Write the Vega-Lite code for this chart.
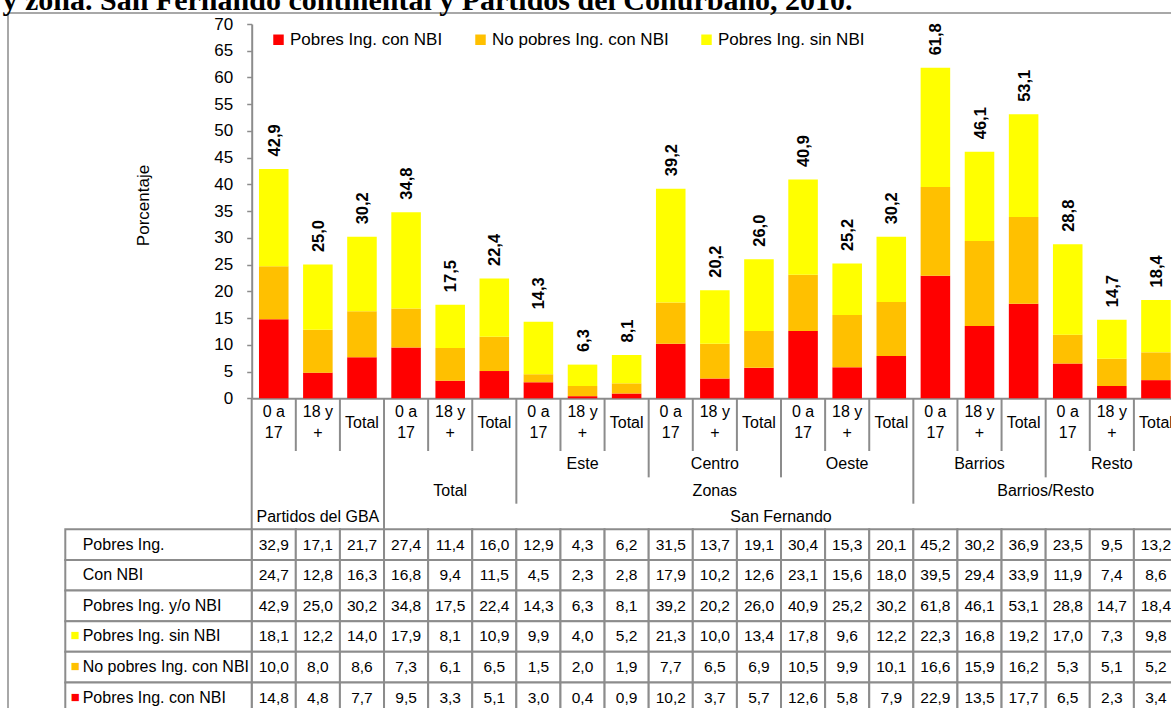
{
  "$schema": "https://vega.github.io/schema/vega-lite/v6.json",
  "autosize": {"type": "none"},
  "padding": {"left": 8, "top": 13, "right": -17, "bottom": -20},
  "width": 1180,
  "height": 715,
  "background": "white",
  "config": {
    "font": "Liberation Sans",
    "view": {"stroke": "#8c8c8c", "strokeWidth": 1.5},
    "locale": {"number": {"decimal": ",", "thousands": ".", "grouping": [3], "currency": ["$", ""]}}
  },
  "datasets": {
    "main": [
      {"col": "GBA 0a17", "pobres": 32.9, "conNBI": 24.7, "pobresYoNBI": 42.9, "sinNBI": 18.1, "noPobresConNBI": 10.0, "pobresConNBI": 14.8},
      {"col": "GBA 18+", "pobres": 17.1, "conNBI": 12.8, "pobresYoNBI": 25.0, "sinNBI": 12.2, "noPobresConNBI": 8.0, "pobresConNBI": 4.8},
      {"col": "GBA Total", "pobres": 21.7, "conNBI": 16.3, "pobresYoNBI": 30.2, "sinNBI": 14.0, "noPobresConNBI": 8.6, "pobresConNBI": 7.7},
      {"col": "SF 0a17", "pobres": 27.4, "conNBI": 16.8, "pobresYoNBI": 34.8, "sinNBI": 17.9, "noPobresConNBI": 7.3, "pobresConNBI": 9.5},
      {"col": "SF 18+", "pobres": 11.4, "conNBI": 9.4, "pobresYoNBI": 17.5, "sinNBI": 8.1, "noPobresConNBI": 6.1, "pobresConNBI": 3.3},
      {"col": "SF Total", "pobres": 16.0, "conNBI": 11.5, "pobresYoNBI": 22.4, "sinNBI": 10.9, "noPobresConNBI": 6.5, "pobresConNBI": 5.1},
      {"col": "Este 0a17", "pobres": 12.9, "conNBI": 4.5, "pobresYoNBI": 14.3, "sinNBI": 9.9, "noPobresConNBI": 1.5, "pobresConNBI": 3.0},
      {"col": "Este 18+", "pobres": 4.3, "conNBI": 2.3, "pobresYoNBI": 6.3, "sinNBI": 4.0, "noPobresConNBI": 2.0, "pobresConNBI": 0.4},
      {"col": "Este Total", "pobres": 6.2, "conNBI": 2.8, "pobresYoNBI": 8.1, "sinNBI": 5.2, "noPobresConNBI": 1.9, "pobresConNBI": 0.9},
      {"col": "Centro 0a17", "pobres": 31.5, "conNBI": 17.9, "pobresYoNBI": 39.2, "sinNBI": 21.3, "noPobresConNBI": 7.7, "pobresConNBI": 10.2},
      {"col": "Centro 18+", "pobres": 13.7, "conNBI": 10.2, "pobresYoNBI": 20.2, "sinNBI": 10.0, "noPobresConNBI": 6.5, "pobresConNBI": 3.7},
      {"col": "Centro Total", "pobres": 19.1, "conNBI": 12.6, "pobresYoNBI": 26.0, "sinNBI": 13.4, "noPobresConNBI": 6.9, "pobresConNBI": 5.7},
      {"col": "Oeste 0a17", "pobres": 30.4, "conNBI": 23.1, "pobresYoNBI": 40.9, "sinNBI": 17.8, "noPobresConNBI": 10.5, "pobresConNBI": 12.6},
      {"col": "Oeste 18+", "pobres": 15.3, "conNBI": 15.6, "pobresYoNBI": 25.2, "sinNBI": 9.6, "noPobresConNBI": 9.9, "pobresConNBI": 5.8},
      {"col": "Oeste Total", "pobres": 20.1, "conNBI": 18.0, "pobresYoNBI": 30.2, "sinNBI": 12.2, "noPobresConNBI": 10.1, "pobresConNBI": 7.9},
      {"col": "Barrios 0a17", "pobres": 45.2, "conNBI": 39.5, "pobresYoNBI": 61.8, "sinNBI": 22.3, "noPobresConNBI": 16.6, "pobresConNBI": 22.9},
      {"col": "Barrios 18+", "pobres": 30.2, "conNBI": 29.4, "pobresYoNBI": 46.1, "sinNBI": 16.8, "noPobresConNBI": 15.9, "pobresConNBI": 13.5},
      {"col": "Barrios Total", "pobres": 36.9, "conNBI": 33.9, "pobresYoNBI": 53.1, "sinNBI": 19.2, "noPobresConNBI": 16.2, "pobresConNBI": 17.7},
      {"col": "Resto 0a17", "pobres": 23.5, "conNBI": 11.9, "pobresYoNBI": 28.8, "sinNBI": 17.0, "noPobresConNBI": 5.3, "pobresConNBI": 6.5},
      {"col": "Resto 18+", "pobres": 9.5, "conNBI": 7.4, "pobresYoNBI": 14.7, "sinNBI": 7.3, "noPobresConNBI": 5.1, "pobresConNBI": 2.3},
      {"col": "Resto Total", "pobres": 13.2, "conNBI": 8.6, "pobresYoNBI": 18.4, "sinNBI": 9.8, "noPobresConNBI": 5.2, "pobresConNBI": 3.4}
    ],
    "columnas": [
      {"col": "GBA 0a17", "edad": "0 a\n17", "desde": "L1a", "hasta": "fin"},
      {"col": "GBA 18+", "edad": "18 y\n+", "desde": "L1a", "hasta": "L2"},
      {"col": "GBA Total", "edad": "Total", "desde": "L1a", "hasta": "L2"},
      {"col": "SF 0a17", "edad": "0 a\n17", "desde": "L1a", "hasta": "fin"},
      {"col": "SF 18+", "edad": "18 y\n+", "desde": "L1a", "hasta": "L2"},
      {"col": "SF Total", "edad": "Total", "desde": "L1a", "hasta": "L2"},
      {"col": "Este 0a17", "edad": "0 a\n17", "desde": "L1a", "hasta": "L4"},
      {"col": "Este 18+", "edad": "18 y\n+", "desde": "L1a", "hasta": "L2"},
      {"col": "Este Total", "edad": "Total", "desde": "L1a", "hasta": "L2"},
      {"col": "Centro 0a17", "edad": "0 a\n17", "desde": "L1a", "hasta": "L3"},
      {"col": "Centro 18+", "edad": "18 y\n+", "desde": "L1a", "hasta": "L2"},
      {"col": "Centro Total", "edad": "Total", "desde": "L1a", "hasta": "L2"},
      {"col": "Oeste 0a17", "edad": "0 a\n17", "desde": "L1a", "hasta": "L3"},
      {"col": "Oeste 18+", "edad": "18 y\n+", "desde": "L1a", "hasta": "L2"},
      {"col": "Oeste Total", "edad": "Total", "desde": "L1a", "hasta": "L2"},
      {"col": "Barrios 0a17", "edad": "0 a\n17", "desde": "L1a", "hasta": "L4"},
      {"col": "Barrios 18+", "edad": "18 y\n+", "desde": "L1a", "hasta": "L2"},
      {"col": "Barrios Total", "edad": "Total", "desde": "L1a", "hasta": "L2"},
      {"col": "Resto 0a17", "edad": "0 a\n17", "desde": "L1a", "hasta": "L3"},
      {"col": "Resto 18+", "edad": "18 y\n+", "desde": "L1a", "hasta": "L2"},
      {"col": "Resto Total", "edad": "Total", "desde": "L1a", "hasta": "L2"}
    ],
    "gruposC": [
      {"nivel": "L2", "col": "Este 18+", "texto": "Este"},
      {"nivel": "L2", "col": "Centro 18+", "texto": "Centro"},
      {"nivel": "L2", "col": "Oeste 18+", "texto": "Oeste"},
      {"nivel": "L2", "col": "Barrios 18+", "texto": "Barrios"},
      {"nivel": "L2", "col": "Resto 18+", "texto": "Resto"},
      {"nivel": "L3", "col": "SF 18+", "texto": "Total"},
      {"nivel": "L3", "col": "Centro 18+", "texto": "Zonas"},
      {"nivel": "L4", "col": "GBA 18+", "texto": "Partidos del GBA"}
    ],
    "gruposB": [
      {"nivel": "L3", "col": "Resto 0a17", "texto": "Barrios/Resto"},
      {"nivel": "L4", "col": "Oeste 0a17", "texto": "San Fernando"}
    ],
    "filas": [
      {"columna": "etiqueta", "clave": "pobres", "etiqueta": "Pobres Ing."},
      {"columna": "etiqueta", "clave": "conNBI", "etiqueta": " Con NBI"},
      {"columna": "etiqueta", "clave": "pobresYoNBI", "etiqueta": "Pobres Ing. y/o NBI"},
      {"columna": "etiqueta", "clave": "sinNBI", "etiqueta": "Pobres Ing. sin NBI"},
      {"columna": "etiqueta", "clave": "noPobresConNBI", "etiqueta": "No pobres Ing. con NBI"},
      {"columna": "etiqueta", "clave": "pobresConNBI", "etiqueta": "Pobres Ing. con NBI"}
    ]
  },
  "layer": [
    {
      "data": {"name": "main"},
      "mark": {"type": "bar", "width": {"band": 0.67}},
      "encoding": {
        "x": {"field": "col", "type": "nominal", "title": null,
          "scale": {"type": "band", "domain": ["GBA 0a17","GBA 18+","GBA Total","SF 0a17","SF 18+","SF Total","Este 0a17","Este 18+","Este Total","Centro 0a17","Centro 18+","Centro Total","Oeste 0a17","Oeste 18+","Oeste Total","Barrios 0a17","Barrios 18+","Barrios Total","Resto 0a17","Resto 18+","Resto Total"], "range": [243.7, 1170], "paddingInner": 0, "paddingOuter": 0},
          "axis": {"labels": false, "ticks": false, "domain": true, "domainColor": "#8c8c8c", "domainWidth": 2, "offset": -329.7, "grid": false, "title": null, "orient": "bottom"}},
        "y": {"field": "pobresConNBI", "type": "quantitative", "stack": null, "title": "Porcentaje",
          "scale": {"domain": [0, 70], "range": [385.3, 11], "nice": false, "zero": false},
          "axis": {"values": [0,5,10,15,20,25,30,35,40,45,50,55,60,65,70], "offset": -243.7, "grid": false, "orient": "left",
            "domainColor": "#8c8c8c", "domainWidth": 2, "tickColor": "#8c8c8c", "tickWidth": 1.5, "tickSize": 5,
            "labelFontSize": 17, "labelColor": "#000000", "labelPadding": 14,
            "titleFontSize": 17, "titleFontWeight": "normal", "titleColor": "#000000",
            "titleX": -108, "titleY": 192, "titleAngle": 270, "titleAlign": "center", "titleBaseline": "middle"}},
        "color": {"datum": "Pobres Ing. con NBI", "type": "nominal",
          "scale": {"domain": ["Pobres Ing. con NBI", "No pobres Ing. con NBI", "Pobres Ing. sin NBI"], "range": ["#FF0000", "#FFC000", "#FFFF00"]},
          "legend": {"orient": "none", "legendX": 262, "legendY": 18, "direction": "horizontal", "title": null,
            "symbolType": "square", "symbolSize": 110, "symbolStrokeWidth": 0, "labelFontSize": 17, "labelColor": "#000000",
            "labelOffset": 3, "labelLimit": 400, "columnPadding": 29, "padding": 0}}
      }
    },
    {
      "data": {"name": "main"},
      "mark": {"type": "bar", "width": {"band": 0.67}},
      "encoding": {
        "x": {"field": "col", "type": "nominal", "axis": null,
          "scale": {"type": "band", "domain": ["GBA 0a17","GBA 18+","GBA Total","SF 0a17","SF 18+","SF Total","Este 0a17","Este 18+","Este Total","Centro 0a17","Centro 18+","Centro Total","Oeste 0a17","Oeste 18+","Oeste Total","Barrios 0a17","Barrios 18+","Barrios Total","Resto 0a17","Resto 18+","Resto Total"], "range": [243.7, 1170], "paddingInner": 0, "paddingOuter": 0}},
        "y": {"field": "pobresConNBI", "type": "quantitative", "stack": null, "axis": null,
          "scale": {"domain": [0, 70], "range": [385.3, 11], "nice": false, "zero": false}},
        "y2": {"field": "conNBI"},
        "color": {"datum": "No pobres Ing. con NBI", "type": "nominal", "legend": null,
          "scale": {"domain": ["Pobres Ing. con NBI", "No pobres Ing. con NBI", "Pobres Ing. sin NBI"], "range": ["#FF0000", "#FFC000", "#FFFF00"]}}
      }
    },
    {
      "data": {"name": "main"},
      "mark": {"type": "bar", "width": {"band": 0.67}},
      "encoding": {
        "x": {"field": "col", "type": "nominal", "axis": null,
          "scale": {"type": "band", "domain": ["GBA 0a17","GBA 18+","GBA Total","SF 0a17","SF 18+","SF Total","Este 0a17","Este 18+","Este Total","Centro 0a17","Centro 18+","Centro Total","Oeste 0a17","Oeste 18+","Oeste Total","Barrios 0a17","Barrios 18+","Barrios Total","Resto 0a17","Resto 18+","Resto Total"], "range": [243.7, 1170], "paddingInner": 0, "paddingOuter": 0}},
        "y": {"field": "conNBI", "type": "quantitative", "stack": null, "axis": null,
          "scale": {"domain": [0, 70], "range": [385.3, 11], "nice": false, "zero": false}},
        "y2": {"field": "pobresYoNBI"},
        "color": {"datum": "Pobres Ing. sin NBI", "type": "nominal", "legend": null,
          "scale": {"domain": ["Pobres Ing. con NBI", "No pobres Ing. con NBI", "Pobres Ing. sin NBI"], "range": ["#FF0000", "#FFC000", "#FFFF00"]}}
      }
    },
    {
      "data": {"name": "main"},
      "mark": {"type": "text", "angle": 270, "align": "left", "baseline": "middle", "dx": 12.5, "dy": 1, "fontWeight": "bold", "fontSize": 16.5, "color": "#000000"},
      "encoding": {
        "x": {"field": "col", "type": "nominal", "title": "y zona. San Fernando continental y Partidos del Conurbano, 2010.",
          "scale": {"type": "band", "domain": ["GBA 0a17","GBA 18+","GBA Total","SF 0a17","SF 18+","SF Total","Este 0a17","Este 18+","Este Total","Centro 0a17","Centro 18+","Centro Total","Oeste 0a17","Oeste 18+","Oeste Total","Barrios 0a17","Barrios 18+","Barrios Total","Resto 0a17","Resto 18+","Resto Total"], "range": [243.7, 1170], "paddingInner": 0, "paddingOuter": 0},
          "axis": {"orient": "top", "domain": false, "ticks": false, "labels": false, "grid": false,
            "titleFont": "Liberation Serif", "titleFontSize": 30, "titleFontWeight": "bold", "titleColor": "#000000",
            "titleAnchor": "start", "titleAlign": "left", "titleBaseline": "alphabetic", "titleX": -6, "titleY": -4, "titleLimit": 3000, "titleAngle": 0}},
        "y": {"field": "pobresYoNBI", "type": "quantitative", "axis": null,
          "scale": {"domain": [0, 70], "range": [385.3, 11], "nice": false, "zero": false}},
        "text": {"field": "pobresYoNBI", "type": "quantitative", "format": ".1f"}
      }
    },
    {
      "data": {"name": "columnas"},
      "mark": {"type": "rule", "color": "#8c8c8c", "strokeWidth": 2},
      "encoding": {
        "x": {"field": "col", "type": "nominal", "bandPosition": 0, "axis": null,
          "scale": {"type": "band", "domain": ["GBA 0a17","GBA 18+","GBA Total","SF 0a17","SF 18+","SF Total","Este 0a17","Este 18+","Este Total","Centro 0a17","Centro 18+","Centro Total","Oeste 0a17","Oeste 18+","Oeste Total","Barrios 0a17","Barrios 18+","Barrios Total","Resto 0a17","Resto 18+","Resto Total"], "range": [243.7, 1170], "paddingInner": 0, "paddingOuter": 0}},
        "y": {"field": "desde", "type": "nominal", "bandPosition": 0, "axis": null,
          "scale": {"type": "band", "domain": ["L1a", "L1b", "L2", "L3", "L4", "fin"], "range": [385.3, 543.4], "paddingInner": 0, "paddingOuter": 0}},
        "y2": {"field": "hasta", "bandPosition": 0}
      }
    },
    {
      "data": {"name": "columnas"},
      "transform": [{"filter": {"not": {"field": "edad", "equal": "Total"}}}],
      "mark": {"type": "text", "lineBreak": "\n", "lineHeight": 20.5, "fontSize": 16, "align": "center", "baseline": "middle", "color": "#000000", "dy": 1},
      "encoding": {
        "x": {"field": "col", "type": "nominal", "axis": null,
          "scale": {"type": "band", "domain": ["GBA 0a17","GBA 18+","GBA Total","SF 0a17","SF 18+","SF Total","Este 0a17","Este 18+","Este Total","Centro 0a17","Centro 18+","Centro Total","Oeste 0a17","Oeste 18+","Oeste Total","Barrios 0a17","Barrios 18+","Barrios Total","Resto 0a17","Resto 18+","Resto Total"], "range": [243.7, 1170], "paddingInner": 0, "paddingOuter": 0}},
        "y": {"field": "desde", "type": "nominal", "bandPosition": 0.5, "axis": null,
          "scale": {"type": "band", "domain": ["L1a", "L1b", "L2", "L3", "L4", "fin"], "range": [385.3, 543.4], "paddingInner": 0, "paddingOuter": 0}},
        "text": {"field": "edad", "type": "nominal"}
      }
    },
    {
      "data": {"name": "columnas"},
      "transform": [{"filter": {"field": "edad", "equal": "Total"}}],
      "mark": {"type": "text", "fontSize": 16, "align": "center", "baseline": "middle", "color": "#000000", "dy": -1.5},
      "encoding": {
        "x": {"field": "col", "type": "nominal", "axis": null,
          "scale": {"type": "band", "domain": ["GBA 0a17","GBA 18+","GBA Total","SF 0a17","SF 18+","SF Total","Este 0a17","Este 18+","Este Total","Centro 0a17","Centro 18+","Centro Total","Oeste 0a17","Oeste 18+","Oeste Total","Barrios 0a17","Barrios 18+","Barrios Total","Resto 0a17","Resto 18+","Resto Total"], "range": [243.7, 1170], "paddingInner": 0, "paddingOuter": 0}},
        "y": {"field": "desde", "type": "nominal", "bandPosition": 1, "axis": null,
          "scale": {"type": "band", "domain": ["L1a", "L1b", "L2", "L3", "L4", "fin"], "range": [385.3, 543.4], "paddingInner": 0, "paddingOuter": 0}},
        "text": {"field": "edad", "type": "nominal"}
      }
    },
    {
      "data": {"name": "gruposC"},
      "mark": {"type": "text", "fontSize": 16, "align": "center", "baseline": "middle", "color": "#000000"},
      "encoding": {
        "x": {"field": "col", "type": "nominal", "axis": null,
          "scale": {"type": "band", "domain": ["GBA 0a17","GBA 18+","GBA Total","SF 0a17","SF 18+","SF Total","Este 0a17","Este 18+","Este Total","Centro 0a17","Centro 18+","Centro Total","Oeste 0a17","Oeste 18+","Oeste Total","Barrios 0a17","Barrios 18+","Barrios Total","Resto 0a17","Resto 18+","Resto Total"], "range": [243.7, 1170], "paddingInner": 0, "paddingOuter": 0}},
        "y": {"field": "nivel", "type": "nominal", "axis": null,
          "scale": {"type": "band", "domain": ["L1a", "L1b", "L2", "L3", "L4", "fin"], "range": [385.3, 543.4], "paddingInner": 0, "paddingOuter": 0}},
        "text": {"field": "texto", "type": "nominal"}
      }
    },
    {
      "data": {"name": "gruposB"},
      "mark": {"type": "text", "fontSize": 16, "align": "center", "baseline": "middle", "color": "#000000"},
      "encoding": {
        "x": {"field": "col", "type": "nominal", "bandPosition": 0, "axis": null,
          "scale": {"type": "band", "domain": ["GBA 0a17","GBA 18+","GBA Total","SF 0a17","SF 18+","SF Total","Este 0a17","Este 18+","Este Total","Centro 0a17","Centro 18+","Centro Total","Oeste 0a17","Oeste 18+","Oeste Total","Barrios 0a17","Barrios 18+","Barrios Total","Resto 0a17","Resto 18+","Resto Total"], "range": [243.7, 1170], "paddingInner": 0, "paddingOuter": 0}},
        "y": {"field": "nivel", "type": "nominal", "axis": null,
          "scale": {"type": "band", "domain": ["L1a", "L1b", "L2", "L3", "L4", "fin"], "range": [385.3, 543.4], "paddingInner": 0, "paddingOuter": 0}},
        "text": {"field": "texto", "type": "nominal"}
      }
    },
    {
      "data": {"name": "main"},
      "transform": [{"fold": ["pobres", "conNBI", "pobresYoNBI", "sinNBI", "noPobresConNBI", "pobresConNBI"], "as": ["clave", "valor"]}],
      "mark": {"type": "rect", "fill": "#ffffff", "stroke": "#8c8c8c", "strokeWidth": 2},
      "encoding": {
        "x": {"field": "col", "type": "nominal", "axis": null,
          "scale": {"type": "band", "domain": ["GBA 0a17","GBA 18+","GBA Total","SF 0a17","SF 18+","SF Total","Este 0a17","Este 18+","Este Total","Centro 0a17","Centro 18+","Centro Total","Oeste 0a17","Oeste 18+","Oeste Total","Barrios 0a17","Barrios 18+","Barrios Total","Resto 0a17","Resto 18+","Resto Total"], "range": [243.7, 1170], "paddingInner": 0, "paddingOuter": 0}},
        "y": {"field": "clave", "type": "nominal", "axis": null,
          "scale": {"type": "band", "domain": ["pobres", "conNBI", "pobresYoNBI", "sinNBI", "noPobresConNBI", "pobresConNBI"], "range": [516.3, 700], "paddingInner": 0, "paddingOuter": 0}}
      }
    },
    {
      "data": {"name": "main"},
      "transform": [{"fold": ["pobres", "conNBI", "pobresYoNBI", "sinNBI", "noPobresConNBI", "pobresConNBI"], "as": ["clave", "valor"]}],
      "mark": {"type": "text", "fontSize": 15.5, "align": "center", "baseline": "middle", "color": "#000000"},
      "encoding": {
        "x": {"field": "col", "type": "nominal", "axis": null,
          "scale": {"type": "band", "domain": ["GBA 0a17","GBA 18+","GBA Total","SF 0a17","SF 18+","SF Total","Este 0a17","Este 18+","Este Total","Centro 0a17","Centro 18+","Centro Total","Oeste 0a17","Oeste 18+","Oeste Total","Barrios 0a17","Barrios 18+","Barrios Total","Resto 0a17","Resto 18+","Resto Total"], "range": [243.7, 1170], "paddingInner": 0, "paddingOuter": 0}},
        "y": {"field": "clave", "type": "nominal", "axis": null,
          "scale": {"type": "band", "domain": ["pobres", "conNBI", "pobresYoNBI", "sinNBI", "noPobresConNBI", "pobresConNBI"], "range": [516.3, 700], "paddingInner": 0, "paddingOuter": 0}},
        "text": {"field": "valor", "type": "quantitative", "format": ".1f"}
      }
    },
    {
      "data": {"name": "filas"},
      "mark": {"type": "rect", "fill": "#ffffff", "stroke": "#8c8c8c", "strokeWidth": 2},
      "encoding": {
        "x": {"field": "columna", "type": "nominal", "axis": null,
          "scale": {"type": "band", "domain": ["etiqueta"], "range": [57.3, 243.7], "paddingInner": 0, "paddingOuter": 0}},
        "y": {"field": "clave", "type": "nominal", "axis": null,
          "scale": {"type": "band", "domain": ["pobres", "conNBI", "pobresYoNBI", "sinNBI", "noPobresConNBI", "pobresConNBI"], "range": [516.3, 700], "paddingInner": 0, "paddingOuter": 0}}
      }
    },
    {
      "data": {"name": "filas"},
      "mark": {"type": "text", "fontSize": 16, "align": "left", "baseline": "middle", "dx": 17.4, "color": "#000000"},
      "encoding": {
        "x": {"field": "columna", "type": "nominal", "bandPosition": 0, "axis": null,
          "scale": {"type": "band", "domain": ["etiqueta"], "range": [57.3, 243.7], "paddingInner": 0, "paddingOuter": 0}},
        "y": {"field": "clave", "type": "nominal", "axis": null,
          "scale": {"type": "band", "domain": ["pobres", "conNBI", "pobresYoNBI", "sinNBI", "noPobresConNBI", "pobresConNBI"], "range": [516.3, 700], "paddingInner": 0, "paddingOuter": 0}},
        "text": {"field": "etiqueta", "type": "nominal"}
      }
    },
    {
      "data": {"name": "filas"},
      "transform": [{"filter": {"field": "clave", "oneOf": ["sinNBI", "noPobresConNBI", "pobresConNBI"]}}],
      "mark": {"type": "text", "fontSize": 15, "align": "left", "baseline": "middle", "dx": 5.5, "dy": -1},
      "encoding": {
        "x": {"field": "columna", "type": "nominal", "bandPosition": 0, "axis": null,
          "scale": {"type": "band", "domain": ["etiqueta"], "range": [57.3, 243.7], "paddingInner": 0, "paddingOuter": 0}},
        "y": {"field": "clave", "type": "nominal", "axis": null,
          "scale": {"type": "band", "domain": ["pobres", "conNBI", "pobresYoNBI", "sinNBI", "noPobresConNBI", "pobresConNBI"], "range": [516.3, 700], "paddingInner": 0, "paddingOuter": 0}},
        "text": {"value": "■"},
        "color": {"field": "clave", "type": "nominal", "legend": null,
          "scale": {"domain": ["sinNBI", "noPobresConNBI", "pobresConNBI"], "range": ["#FFFF00", "#FFC000", "#FF0000"]}}
      }
    }
  ],
  "resolve": {"scale": {"x": "independent", "y": "independent", "color": "independent"}}
}
